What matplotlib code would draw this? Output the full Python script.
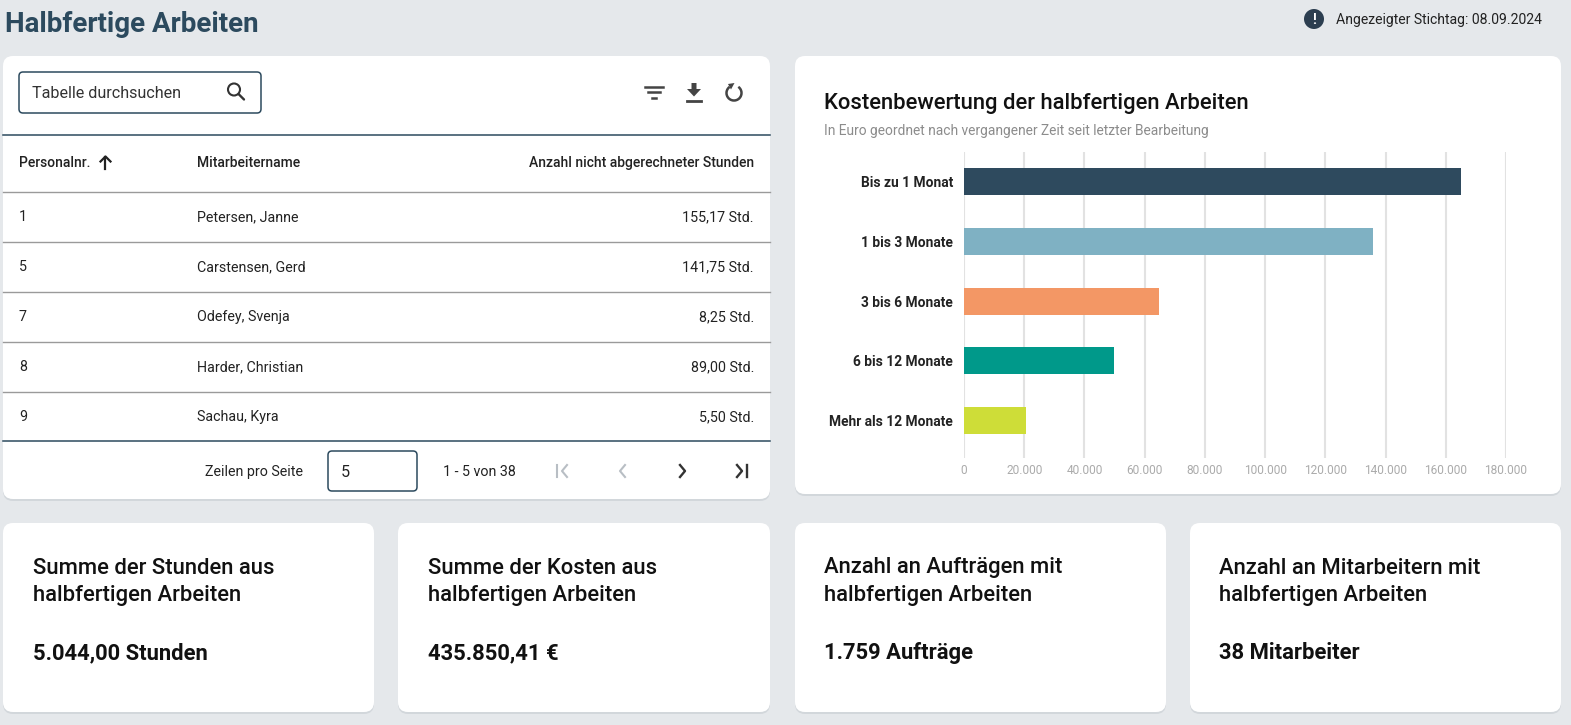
import numpy as np
import matplotlib
matplotlib.use("Agg")
import matplotlib.pyplot as plt
from matplotlib.patches import FancyBboxPatch, Circle, Polygon, Arc
from matplotlib.ticker import FuncFormatter

plt.rcParams["font.family"] = ["Roboto", "DejaVu Sans"]

# ---- data ----
categories = ["Bis zu 1 Monat", "1 bis 3 Monate", "3 bis 6 Monate",
              "6 bis 12 Monate", "Mehr als 12 Monate"]
costs = [165020, 135850, 64600, 49900, 20480]
bar_colors = ["#2E4A5E", "#7FB1C3", "#F39765", "#00998A", "#CEDD38"]
x_ticks = [0, 20000, 40000, 60000, 80000, 100000, 120000, 140000, 160000, 180000]

personal_nr = ["1", "5", "7", "8", "9"]
names = ["Petersen, Janne", "Carstensen, Gerd", "Odefey, Svenja",
         "Harder, Christian", "Sachau, Kyra"]
hours = [155.17, 141.75, 8.25, 89.00, 5.50]

kpi_titles = ["Summe der Stunden aus\nhalbfertigen Arbeiten",
              "Summe der Kosten aus\nhalbfertigen Arbeiten",
              "Anzahl an Aufträgen mit\nhalbfertigen Arbeiten",
              "Anzahl an Mitarbeitern mit\nhalbfertigen Arbeiten"]
kpi_values = ["5.044,00 Stunden", "435.850,41 €", "1.759 Aufträge", "38 Mitarbeiter"]

BG = "#E5E8EB"
DARK = "#2C4A5E"
TXT = "#222222"
W, H = 1571, 725
FS_BODY = 10.3
FS_HEAD = 10.0


def de_num(v, dec=2):
    s = f"{v:,.{dec}f}"
    return s.replace(",", "X").replace(".", ",").replace("X", ".")


fig = plt.figure(figsize=(W / 100, H / 100), dpi=100, facecolor=BG)
bg = fig.add_axes([0, 0, 1, 1])
bg.set_xlim(0, W)
bg.set_ylim(H, 0)
bg.axis("off")
bg.set_facecolor(BG)


def card(x0, y0, x1, y1):
    sh = FancyBboxPatch((x0, y0 + 2), x1 - x0, y1 - y0,
                        boxstyle="round,pad=0,rounding_size=10",
                        fc="#CBD0D5", ec="none", alpha=0.7, zorder=1)
    bg.add_patch(sh)
    c = FancyBboxPatch((x0, y0), x1 - x0, y1 - y0,
                       boxstyle="round,pad=0,rounding_size=10",
                       fc="white", ec="none", zorder=2)
    bg.add_patch(c)


# header
bg.text(5, 24, "Halbfertige Arbeiten", fontsize=20, fontweight="bold",
        color=DARK, va="center", ha="left")
bg.add_patch(Circle((1314, 19), 10, fc="#2C3E50", ec="none", zorder=3))
bg.text(1314, 19.5, "!", color="white", fontsize=10, fontweight="bold",
        ha="center", va="center", zorder=4)
bg.text(1336, 20, "Angezeigter Stichtag: 08.09.2024", fontsize=10.1,
        color=TXT, va="center", ha="left")

# cards
card(3, 56, 770, 499)
card(795, 56, 1561, 494)
for x0, x1 in [(3, 374), (398, 770), (795, 1166), (1190, 1561)]:
    card(x0, 523, x1, 712)

# ---- table card ----
bg.add_patch(FancyBboxPatch((19, 72), 242, 41, boxstyle="round,pad=0,rounding_size=4",
                            fc="white", ec=DARK, lw=1.1, zorder=3))
bg.text(32, 93, "Tabelle durchsuchen", fontsize=11.6, color="#333333",
        va="center", ha="left", zorder=4)
bg.add_patch(Circle((234, 89.5), 6, fc="none", ec="#333333", lw=1.5, zorder=4))
bg.plot([238.5, 244], [94, 99.5], color="#333333", lw=1.7, zorder=4,
        solid_capstyle="round")

# filter icon
ic = "#444444"
for yy, hw in [(86.5, 9), (92, 6), (97.5, 2)]:
    bg.plot([654 - hw, 654 + hw], [yy, yy], color=ic, lw=1.8, zorder=4)
# download icon
bg.add_patch(Polygon([(691.5, 83), (696.5, 83), (696.5, 89), (701, 89),
                      (694, 96.5), (687, 89), (691.5, 89)],
                     closed=True, fc=ic, ec="none", zorder=4))
bg.plot([687, 701], [100.5, 100.5], color=ic, lw=2, zorder=4)
# refresh icon
bg.add_patch(Arc((734, 93), 15, 15, theta1=-55, theta2=235, color=ic, lw=1.8, zorder=4))
bg.add_patch(Polygon([(728, 84), (734.5, 83), (731, 89.5)], closed=True,
                     fc=ic, ec="none", zorder=4))

# table lines
bg.plot([3, 770], [135, 135], color=DARK, lw=1.1, zorder=3)
bg.plot([3, 770], [192, 192], color="#9A9A9A", lw=1, zorder=3)
bg.plot([3, 770], [441, 441], color=DARK, lw=1.1, zorder=3)
for yy in [242, 292, 342, 392]:
    bg.plot([3, 770], [yy, yy], color="#9A9A9A", lw=1, zorder=3)

# header row
bg.text(19, 163, "Personalnr.", fontsize=FS_HEAD, fontweight="medium", color=TXT,
        va="center", ha="left", zorder=4)
bg.plot([105.5, 105.5], [156.5, 168.5], color=TXT, lw=1.6, zorder=4)
bg.plot([100.5, 105.5, 110.5], [161.5, 156.5, 161.5], color=TXT, lw=1.6, zorder=4)
bg.text(197, 163, "Mitarbeitername", fontsize=FS_HEAD, fontweight="medium", color=TXT,
        va="center", ha="left", zorder=4)
bg.text(754, 163, "Anzahl nicht abgerechneter Stunden", fontsize=FS_HEAD,
        fontweight="medium", color=TXT, va="center", ha="right", zorder=4)

row_y = [217, 267, 317, 367, 417]
for y, pn, nm, hr in zip(row_y, personal_nr, names, hours):
    bg.text(19, y, pn, fontsize=FS_BODY, color=TXT, va="center", ha="left", zorder=4)
    bg.text(197, y, nm, fontsize=FS_BODY, color=TXT, va="center", ha="left", zorder=4)
    bg.text(754, y, de_num(hr) + " Std.", fontsize=FS_BODY, color=TXT,
            va="center", ha="right", zorder=4)

# pager
bg.text(303, 472, "Zeilen pro Seite", fontsize=FS_BODY, color=TXT, va="center",
        ha="right", zorder=4)
bg.add_patch(FancyBboxPatch((328, 451), 89, 40, boxstyle="round,pad=0,rounding_size=4",
                            fc="white", ec=DARK, lw=1.1, zorder=3))
bg.text(341, 472, "5", fontsize=11.6, color=TXT, va="center", ha="left", zorder=4)
bg.text(443, 472, "1 - 5 von 38", fontsize=FS_BODY, color=TXT, va="center",
        ha="left", zorder=4)
grey_ic = "#B8BEC4"
bg.plot([557, 557], [465, 477], color=grey_ic, lw=1.5, zorder=4)
bg.plot([567, 562, 567], [465, 471, 477], color=grey_ic, lw=1.5, zorder=4)
bg.plot([625, 620, 625], [465, 471, 477], color=grey_ic, lw=1.5, zorder=4)
bg.plot([680, 685, 680], [465, 471, 477], color="#333333", lw=1.7, zorder=4)
bg.plot([737, 742, 737], [465, 471, 477], color="#333333", lw=1.7, zorder=4)
bg.plot([747, 747], [465, 477], color="#333333", lw=1.7, zorder=4)

# ---- chart card ----
bg.text(824, 103, "Kostenbewertung der halbfertigen Arbeiten", fontsize=15.8,
        fontweight="medium", color="#111111", va="center", ha="left", zorder=4)
bg.text(824, 131, "In Euro geordnet nach vergangener Zeit seit letzter Bearbeitung",
        fontsize=9.9, color="#8C8C8C", va="center", ha="left", zorder=4)

ax_l, ax_r, ax_t, ax_b = 964, 1506, 152, 458
ax = fig.add_axes([ax_l / W, 1 - ax_b / H, (ax_r - ax_l) / W, (ax_b - ax_t) / H])
ax.set_facecolor("none")
ax.set_zorder(5)
ypos = np.arange(len(categories))
ax.barh(ypos, costs, height=0.45, color=bar_colors, zorder=3)
ax.set_xlim(0, 180000)
ax.set_ylim(4.63, -0.5)
ax.set_xticks(x_ticks)
ax.xaxis.set_major_formatter(FuncFormatter(lambda v, p: de_num(v, 0)))
ax.set_yticks(ypos)
ax.set_yticklabels(categories, fontweight="bold", fontsize=9.9, color=TXT)
ax.tick_params(axis="y", length=0, pad=8)
ax.tick_params(axis="x", length=0, pad=4, labelsize=8.6, labelcolor="#ABABAB")
ax.grid(axis="x", color="#E2E2E2", lw=1.5, zorder=0)
for s in ax.spines.values():
    s.set_visible(False)

# ---- KPI cards ----
for x0, t, v in zip([33, 428, 824, 1219], kpi_titles, kpi_values):
    line1, line2 = t.split("\n")
    bg.text(x0, 568, line1, fontsize=15.8, fontweight="medium",
            color="#111111", va="center", ha="left", zorder=4)
    bg.text(x0, 596, line2, fontsize=15.8, fontweight="medium",
            color="#111111", va="center", ha="left", zorder=4)
    bg.text(x0, 653, v, fontsize=15.8, fontweight="bold", color="#111111",
            va="center", ha="left", zorder=4)

fig.savefig("out.png", dpi=100, facecolor=BG)
